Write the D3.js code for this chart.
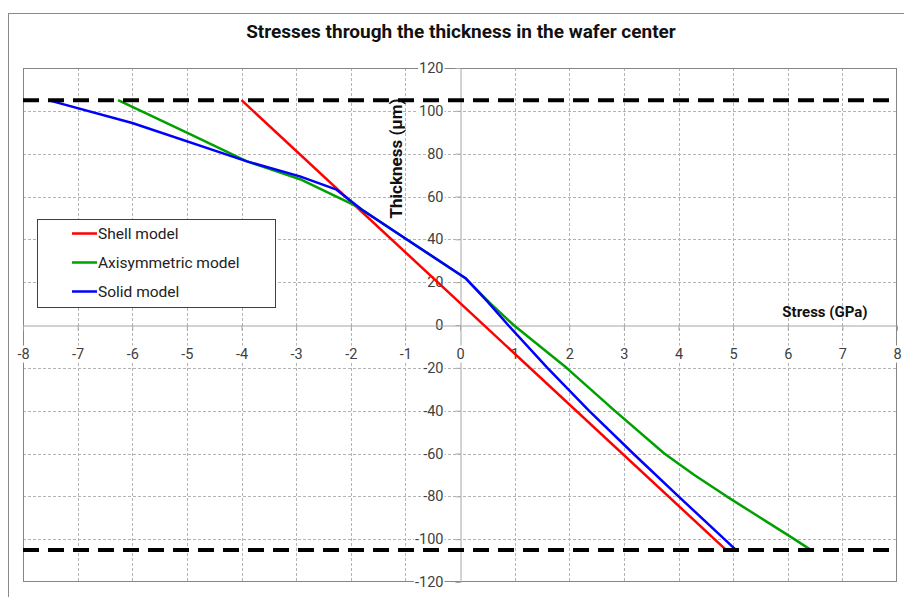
<!DOCTYPE html>
<html>
<head>
<meta charset="utf-8">
<script src="https://cdn.jsdelivr.net/npm/d3@7"></script>
<style>
  body { margin: 0; background: #fff; }
  svg { display: block; }
  text { font-family: Roboto, "Noto Sans", sans-serif; }
</style>
</head>
<body>
<svg id="chart" width="904" height="597"></svg>
<script>
// Axis ticks
const stressTicks = d3.range(-8, 9, 1);          // GPa
const thicknessTicks = d3.range(-120, 121, 20);  // µm

// Shell model (linear through the thickness)
const shellStress = [-4.0, 4.87];
const shellThickness = [105, -105];

// Axisymmetric model
const axiStress = [-6.26, -5.0, -3.9, -2.9, -1.89, -1.0, 0.1, 0.55, 0.98, 1.95, 2.83, 3.74, 4.29, 4.88, 5.5, 6.12, 6.42];
const axiThickness = [105, 89.8, 76.4, 67.8, 55.4, 40.4, 21.8, 10.2, 0, -20, -40, -60, -70, -80, -90, -100, -105];

// Solid model
const solidStress = [-7.54, -6.0, -3.9, -2.93, -2.26, -1.8, -1.0, 0.11, 0.5, 0.88, 1.6, 2.36, 3.17, 4.0, 4.84, 5.05];
const solidThickness = [105, 94.3, 76.4, 69.4, 63.2, 53.9, 40.4, 21.7, 11, 0, -20, -40, -60, -80, -100, -105];

// Wafer surfaces (top and bottom faces)
const waferFaces = [105, -105];

const seriesNames = ["Shell model", "Axisymmetric model", "Solid model"];
const seriesColors = ["#ff0000", "#00a000", "#0000ff"];

const series = [
  { name: seriesNames[0], color: seriesColors[0], pts: d3.zip(shellStress, shellThickness) },
  { name: seriesNames[1], color: seriesColors[1], pts: d3.zip(axiStress, axiThickness) },
  { name: seriesNames[2], color: seriesColors[2], pts: d3.zip(solidStress, solidThickness) }
];

const svg = d3.select("#chart");
const W = 904, H = 597;
const plot = { left: 23, right: 897, top: 68, bottom: 582 };

svg.append("rect").attr("width", W).attr("height", H).attr("fill", "#fff");

// Chart frame
svg.append("rect")
  .attr("x", 8.5).attr("y", 13.5)
  .attr("width", W + 10).attr("height", H + 10)
  .attr("fill", "none").attr("stroke", "#8a8a8a").attr("stroke-width", 1);

const x = d3.scaleLinear().domain([-8, 8]).range([plot.left, plot.right]);
const y = d3.scaleLinear().domain([-120, 120]).range([plot.bottom, plot.top]);

svg.append("defs").append("clipPath").attr("id", "plotClip")
  .append("rect")
  .attr("x", plot.left).attr("y", plot.top)
  .attr("width", plot.right - plot.left).attr("height", plot.bottom - plot.top);

// Gridlines
const grid = svg.append("g").attr("stroke", "#b3b3b3").attr("stroke-width", 1)
  .attr("stroke-dasharray", "3,2");
grid.selectAll("line.v").data(stressTicks.filter(d => d > -8 && d < 8 && d !== 0))
  .join("line").attr("class", "v")
  .attr("x1", d => Math.round(x(d)) + 0.5).attr("x2", d => Math.round(x(d)) + 0.5)
  .attr("y1", plot.top).attr("y2", plot.bottom);
grid.selectAll("line.h").data(thicknessTicks.filter(d => d > -120 && d < 120 && d !== 0))
  .join("line").attr("class", "h")
  .attr("y1", d => Math.round(y(d)) + 0.5).attr("y2", d => Math.round(y(d)) + 0.5)
  .attr("x1", plot.left).attr("x2", plot.right);

// Plot border
svg.append("rect")
  .attr("x", plot.left + 0.5).attr("y", plot.top + 0.5)
  .attr("width", plot.right - plot.left - 1).attr("height", plot.bottom - plot.top - 1)
  .attr("fill", "none").attr("stroke", "#868686");

// Axes crossing at the origin
const fmt = d => String(d);
const yAxis = svg.append("g")
  .attr("transform", `translate(${Math.round(x(0)) + 0.5},0)`)
  .call(d3.axisLeft(y).tickValues(thicknessTicks).tickFormat(fmt).tickSize(5).tickSizeOuter(0).tickPadding(12));
const xAxis = svg.append("g")
  .attr("transform", `translate(0,${Math.round(y(0)) + 0.5})`)
  .call(d3.axisBottom(x).tickValues(stressTicks).tickFormat(fmt).tickSize(5).tickSizeOuter(0));

[yAxis, xAxis].forEach(g => {
  g.select(".domain").attr("stroke", "#a6a6a6");
  g.selectAll(".tick line").attr("stroke", "#a6a6a6");
  g.selectAll(".tick text").attr("fill", "#404040").style("font-size", "14.5px");
});
xAxis.selectAll(".tick text").attr("y", 28).attr("dy", "0.35em");

// White boxes behind tick labels
[yAxis, xAxis].forEach(g => {
  g.selectAll(".tick").each(function () {
    const t = d3.select(this).select("text");
    const b = t.node().getBBox();
    d3.select(this).insert("rect", "text")
      .attr("x", b.x - 1).attr("y", b.y)
      .attr("width", b.width + 2).attr("height", b.height)
      .attr("fill", "#fff");
  });
});

// Axis titles
svg.append("text")
  .attr("transform", `translate(402,158.5) rotate(-90)`)
  .attr("text-anchor", "middle")
  .attr("font-weight", "bold").style("font-size", "17px").attr("fill", "#111")
  .text("Thickness (µm)");
svg.append("text")
  .attr("x", 825).attr("y", 316.5)
  .attr("text-anchor", "middle")
  .attr("font-weight", "bold").style("font-size", "15px").attr("fill", "#111")
  .text("Stress (GPa)");

// Title
svg.append("text")
  .attr("x", 461).attr("y", 38)
  .attr("text-anchor", "middle")
  .attr("font-weight", "bold").style("font-size", "19px").attr("fill", "#111")
  .text("Stresses through the thickness in the wafer center");

// Data lines
const line = d3.line().x(d => x(d[0])).y(d => y(d[1]));
const lines = svg.append("g").attr("clip-path", "url(#plotClip)");
lines.selectAll("path.series").data(series).join("path")
  .attr("class", "series")
  .attr("d", d => line(d.pts))
  .attr("fill", "none")
  .attr("stroke", d => d.color)
  .attr("stroke-width", 2.5)
  .attr("stroke-linejoin", "round");

// Wafer faces
lines.selectAll("line.face").data(waferFaces).join("line")
  .attr("class", "face")
  .attr("x1", plot.left).attr("x2", plot.right)
  .attr("y1", d => y(d)).attr("y2", d => y(d))
  .attr("stroke", "#000").attr("stroke-width", 4)
  .attr("stroke-dasharray", "16,9");

// Legend
const legend = svg.append("g");
legend.append("rect")
  .attr("x", 37.5).attr("y", 219.5).attr("width", 238).attr("height", 88)
  .attr("fill", "#fff").attr("stroke", "#404040");
const rowY = [233.5, 262.5, 291.5];
const item = legend.selectAll("g.item").data(series).join("g").attr("class", "item")
  .attr("transform", (d, i) => `translate(0,${rowY[i]})`);
item.append("line")
  .attr("x1", 72).attr("x2", 97)
  .attr("stroke", d => d.color).attr("stroke-width", 2.5);
item.append("text")
  .attr("x", 98).attr("dy", "0.35em")
  .style("font-size", "15.5px").attr("fill", "#222")
  .text(d => d.name);
</script>
</body>
</html>
